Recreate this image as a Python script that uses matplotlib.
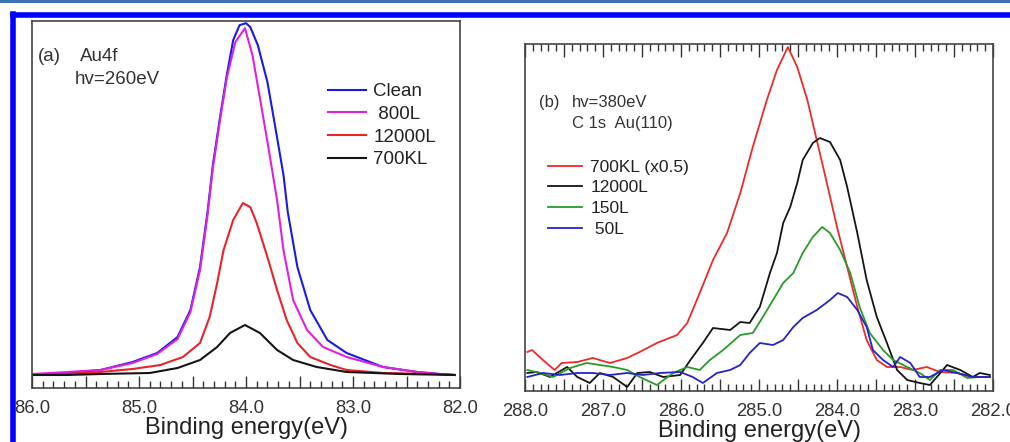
import matplotlib
matplotlib.use("Agg")
import matplotlib.pyplot as plt
import matplotlib.ticker as mticker
from matplotlib.lines import Line2D

plt.rcParams['font.family'] = ['Liberation Sans', 'DejaVu Sans']

# ---- panel (a): Au4f, hv=260eV ----
clean_be = [85.99, 85.67, 85.36, 85.06, 84.83, 84.64, 84.52, 84.43, 84.36, 84.31, 84.24, 84.18,
            84.12, 84.06, 84.00, 83.96, 83.89, 83.80, 83.73, 83.65, 83.61, 83.52, 83.40, 83.24,
            83.06, 82.72, 82.40, 82.19, 82.05]
clean_i = [0, 2, 5, 13, 22, 38, 65, 108, 163, 210, 260, 300, 335, 350, 352, 348, 330, 293, 250,
           200, 163, 108, 65, 35, 22, 8, 3, 1, 0]

l800_be = [85.99, 85.67, 85.36, 85.06, 84.83, 84.64, 84.52, 84.43, 84.36, 84.31, 84.24, 84.18,
           84.10, 84.01, 83.94, 83.87, 83.79, 83.71, 83.65, 83.56, 83.43, 83.28, 83.06, 82.72,
           82.40, 82.19, 82.05]
l800_i = [1, 3, 5, 12, 21, 36, 63, 105, 160, 207, 257, 297, 333, 347, 320, 277, 227, 175, 125, 75,
          45, 28, 18, 8, 3, 1, 0]

l12000_be = [85.99, 85.67, 85.36, 85.06, 84.80, 84.59, 84.43, 84.34, 84.27, 84.21, 84.12, 84.03,
             83.96, 83.90, 83.80, 83.71, 83.62, 83.52, 83.40, 83.21, 83.06, 82.72, 82.25, 82.05]
l12000_i = [0, 1, 3, 6, 10, 18, 32, 58, 92, 125, 155, 172, 168, 152, 118, 85, 55, 32, 18, 10, 5,
            2, 1, 0]

l700k_be = [85.99, 85.67, 85.36, 84.90, 84.64, 84.43, 84.27, 84.15, 84.01, 83.87, 83.71, 83.56,
            83.34, 83.06, 82.56, 82.05]
l700k_i = [0, 0, 1, 2, 7, 15, 28, 42, 50, 42, 25, 15, 8, 3, 1, 0]

# ---- panel (b): C 1s Au(110), hv=380eV ----
c700k_be = [287.97, 287.91, 287.77, 287.62, 287.53, 287.33, 287.13, 286.91, 286.69, 286.53,
            286.31, 286.05, 285.92, 285.76, 285.59, 285.41, 285.24, 285.08, 284.90, 284.77,
            284.63, 284.51, 284.38, 284.26, 284.13, 284.00, 283.87, 283.74, 283.62, 283.49,
            283.36, 283.19, 283.03, 282.85, 282.68, 282.46, 282.26, 282.04]
c700k_i = [39, 41, 31, 21, 28, 29, 33, 28, 33, 39, 48, 56, 68, 98, 131, 158, 198, 244, 291, 321,
           344, 324, 291, 251, 208, 164, 124, 84, 51, 31, 24, 24, 21, 24, 19, 18, 14, 14]

c12000_be = [287.97, 287.85, 287.68, 287.46, 287.33, 287.17, 287.04, 286.87, 286.69, 286.56,
             286.40, 286.23, 286.01, 285.88, 285.72, 285.59, 285.37, 285.24, 285.12, 284.99,
             284.86, 284.77, 284.69, 284.60, 284.51, 284.44, 284.31, 284.22, 284.09, 283.96,
             283.87, 283.74, 283.62, 283.49, 283.36, 283.23, 283.10, 282.94, 282.81, 282.72,
             282.59, 282.42, 282.26, 282.17, 282.04]
c12000_i = [18, 19, 14, 24, 14, 8, 18, 14, 4, 18, 19, 14, 16, 31, 48, 63, 61, 69, 68, 84, 118, 138,
            168, 184, 208, 231, 248, 253, 249, 231, 204, 158, 111, 74, 48, 21, 11, 8, 6, 14, 26,
            21, 14, 18, 16]

c150_be = [287.97, 287.81, 287.64, 287.42, 287.21, 287.04, 286.87, 286.69, 286.53, 286.31, 286.10,
           285.92, 285.76, 285.63, 285.46, 285.24, 285.08, 284.95, 284.82, 284.69, 284.56, 284.44,
           284.31, 284.19, 284.09, 283.96, 283.83, 283.71, 283.58, 283.41, 283.28, 283.10, 282.94,
           282.81, 282.68, 282.51, 282.33, 282.17, 282.04]
c150_i = [21, 18, 14, 23, 28, 26, 24, 21, 14, 6, 18, 24, 21, 31, 41, 56, 58, 74, 91, 108, 118, 138,
          154, 164, 158, 141, 118, 84, 58, 41, 31, 24, 18, 11, 21, 21, 13, 14, 14]

c50_be = [287.97, 287.77, 287.55, 287.33, 287.13, 286.91, 286.69, 286.49, 286.27, 286.01, 285.85,
          285.72, 285.54, 285.37, 285.24, 285.12, 284.99, 284.82, 284.69, 284.56, 284.44, 284.26,
          284.09, 283.99, 283.87, 283.74, 283.62, 283.54, 283.41, 283.28, 283.19, 283.06, 282.94,
          282.81, 282.64, 282.46, 282.26, 282.04]
c50_i = [14, 18, 16, 18, 18, 16, 18, 16, 18, 19, 14, 8, 18, 21, 26, 38, 48, 46, 51, 64, 73, 81, 91,
         98, 94, 81, 64, 41, 31, 24, 34, 28, 14, 14, 21, 18, 14, 14]

fig = plt.figure(figsize=(10.1, 4.42), dpi=100)

# frame decoration
fig.add_artist(Line2D([0, 1], [0.997, 0.997], color='#3f6fae', lw=2.2))
fig.add_artist(Line2D([0.0125, 1], [0.967, 0.967], color='#0000ff', lw=4))
fig.add_artist(Line2D([0.0125, 0.0125], [0, 0.969], color='#0000ff', lw=4))

ax1 = fig.add_axes([0.0317, 0.1222, 0.4238, 0.830])
ax2 = fig.add_axes([0.5198, 0.1154, 0.4634, 0.785])

ax1.plot(clean_be, clean_i, color='#1a1ae6', lw=1.5, label='Clean')
ax1.plot(l800_be, l800_i, color='#e020e0', lw=1.5, label=' 800L')
ax1.plot(l12000_be, l12000_i, color='#e8242a', lw=1.5, label='12000L')
ax1.plot(l700k_be, l700k_i, color='#151515', lw=1.5, label='700KL')
ax1.set_xlim(86.0, 82.0)
ax1.set_ylim(-13, 354)

ax2.plot(c700k_be, c700k_i, color='#ec2a2a', lw=1.3, label='700KL (x0.5)')
ax2.plot(c12000_be, c12000_i, color='#151515', lw=1.3, label='12000L')
ax2.plot(c150_be, c150_i, color='#2a9a2a', lw=1.3, label='150L')
ax2.plot(c50_be, c50_i, color='#2424c8', lw=1.3, label=' 50L')
ax2.set_xlim(288.0, 282.0)
ax2.set_ylim(0, 347)

def fmt(v, pos):
    return '%.1f' % v if abs(v - round(v)) < 1e-6 else ''

for ax, top in ((ax1, False), (ax2, True)):
    ax.xaxis.set_major_locator(mticker.MultipleLocator(0.5))
    ax.xaxis.set_minor_locator(mticker.MultipleLocator(0.1))
    ax.xaxis.set_major_formatter(mticker.FuncFormatter(fmt))
    ax.tick_params(axis='x', which='major', direction='in', length=9, width=1, colors='#333333',
                   labelsize=13.3, labelcolor='#333333', top=top, pad=9)
    ax.tick_params(axis='x', which='minor', direction='in', length=5, width=1, colors='#333333',
                   top=top)
    ax.set_yticks([])
    for s in ax.spines.values():
        s.set_color('#444444')
        s.set_linewidth(1.2)
    ax.set_xlabel('Binding energy(eV)', fontsize=17, color='#222222', labelpad=0)

ax1.text(0.013, 0.89, '(a)', transform=ax1.transAxes, fontsize=13.5, color='#333333')
ax1.text(0.112, 0.89, 'Au4f', transform=ax1.transAxes, fontsize=13.5, color='#333333')
ax1.text(0.100, 0.828, 'hv=260eV', transform=ax1.transAxes, fontsize=13.5, color='#333333')
ax1.legend(loc='upper left', bbox_to_anchor=(0.67, 0.857), frameon=False, fontsize=13.5,
           handlelength=2.0, handletextpad=0.4, labelspacing=0.3, borderpad=0,
           labelcolor='#222222')

ax2.text(0.03, 0.818, '(b)', transform=ax2.transAxes, fontsize=12, color='#333333')
ax2.text(0.100, 0.818, 'hv=380eV', transform=ax2.transAxes, fontsize=12, color='#333333')
ax2.text(0.100, 0.757, 'C 1s  Au(110)', transform=ax2.transAxes, fontsize=12, color='#333333')
ax2.legend(loc='upper left', bbox_to_anchor=(0.03, 0.692), frameon=False, fontsize=12.5,
           handlelength=2.0, handletextpad=0.45, labelspacing=0.32, borderpad=0,
           labelcolor='#222222')

fig.savefig('out.png', dpi=100)
